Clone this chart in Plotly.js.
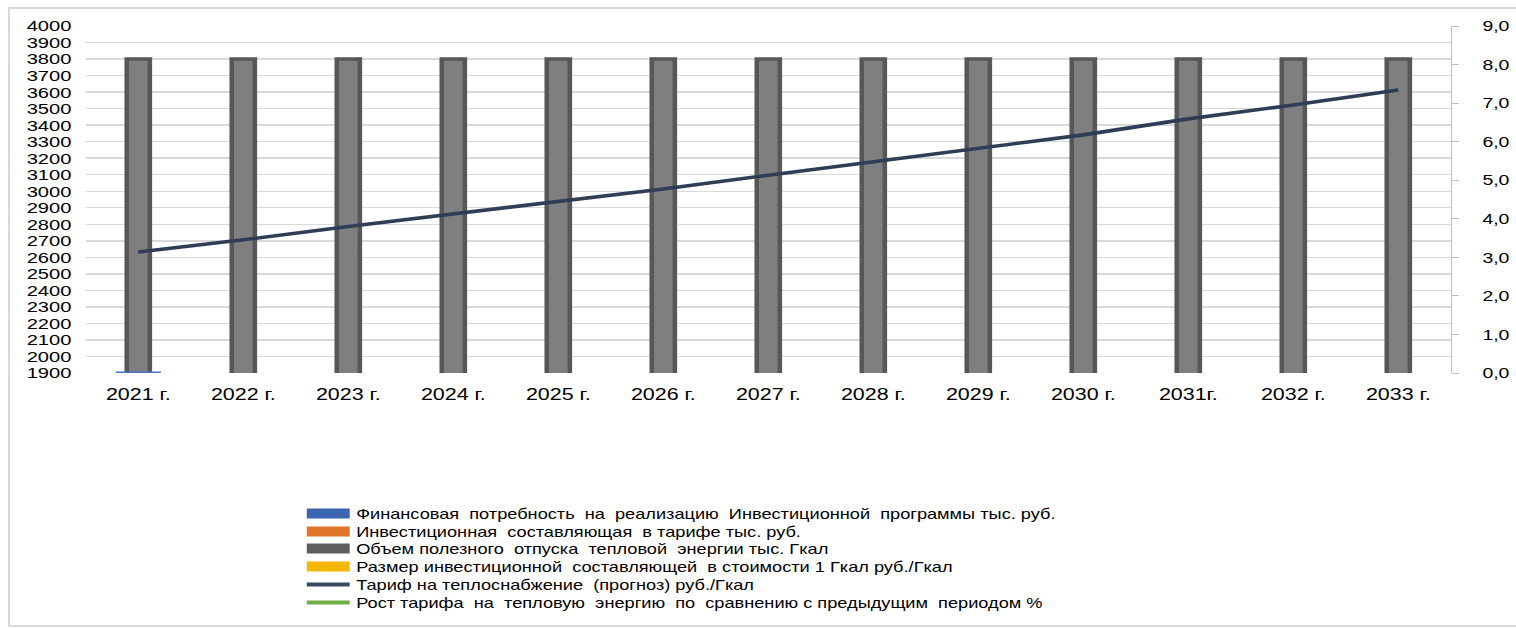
<!DOCTYPE html>
<html><head><meta charset="utf-8">
<script src="https://cdn.plot.ly/plotly-3.0.1.min.js"></script>
<style>
html,body{margin:0;padding:0;background:#fff;overflow:hidden;width:1516px;height:628px;}
#frame{position:absolute;left:8px;top:7px;width:1510px;height:620px;border:2px solid #d9d9d9;box-sizing:border-box;}
#chart{position:absolute;left:0;top:0;width:1180px;height:628px;transform:scaleX(1.3);transform-origin:0 0;}
</style></head><body>
<div id="frame"></div>
<div id="chart"></div>
<script>
// categories
const years = ["2021 г.","2022 г.","2023 г.","2024 г.","2025 г.","2026 г.","2027 г.","2028 г.","2029 г.","2030 г.","2031г.","2032 г.","2033 г."];
// series
const finNeed       = [0.04, null, null, null, null, null, null, null, null, null, null, null, null];
const investPart    = [null, null, null, null, null, null, null, null, null, null, null, null, null];
const heatVolume    = [3800, 3800, 3800, 3800, 3800, 3800, 3800, 3800, 3800, 3800, 3800, 3800, 3800];
const investPerGcal = [null, null, null, null, null, null, null, null, null, null, null, null, null];
const tariff        = [2632, 2706, 2787, 2863, 2940, 3014, 3097, 3178, 3258, 3341, 3438, 3522, 3613];
const tariffGrowth  = [null, null, null, null, null, null, null, null, null, null, null, null, null];
// legend names
const names = [
  "Финансовая\u00a0 потребность\u00a0 на\u00a0 реализацию\u00a0 Инвестиционной\u00a0 программы тыс. руб.",
  "Инвестиционная\u00a0 составляющая\u00a0 в тарифе тыс. руб.",
  "Объем полезного\u00a0 отпуска\u00a0 тепловой\u00a0 энергии тыс. Гкал",
  "Размер инвестиционной\u00a0 составляющей\u00a0 в стоимости 1 Гкал руб./Гкал",
  "Тариф на теплоснабжение\u00a0 (прогноз) руб./Гкал",
  "Рост тарифа\u00a0 на\u00a0 тепловую\u00a0 энергию\u00a0 по\u00a0 сравнению с предыдущим\u00a0 периодом %"
];
const legendColors = ['#3b65b0', '#e07428', '#5e5e5e', '#f5b800', '#3a4a63', '#70ad47'];
const legendWidths = [10.5, 10.5, 10.5, 10.5, 4, 4];
const FONT = "Liberation Sans, Arial, sans-serif";

const W = 1180, H = 628, ML = 66, MR = 64, MT = 26, MB = 255;
const PW = W - ML - MR, PH = H - MT - MB;

const traces = [
  {type:'bar', x:years, y:heatVolume, yaxis:'y', width:0.22, showlegend:false,
   marker:{color:'#7f7f7f', line:{color:'#575757', width:3.5}}},
  {type:'bar', x:years, y:investPart, yaxis:'y', width:0.22, showlegend:false,
   marker:{color:'#ed7d31'}},
  {type:'bar', x:years, y:investPerGcal, yaxis:'y', width:0.22, showlegend:false,
   marker:{color:'#ffc000'}},
  {type:'bar', x:years, y:finNeed, yaxis:'y2', width:0.43, showlegend:false,
   marker:{color:'#4472c4'}},
  {type:'scatter', mode:'lines', x:years, y:tariff, yaxis:'y', showlegend:false,
   line:{color:'#2f3e56', width:3.6}},
  {type:'scatter', mode:'lines', x:years, y:tariffGrowth, yaxis:'y2', showlegend:false,
   line:{color:'#70ad47', width:3.6}}
];

const layout = {
  width:W, height:H,
  margin:{l:ML, r:MR, t:MT, b:MB, autoexpand:false},
  paper_bgcolor:'rgba(0,0,0,0)', plot_bgcolor:'#fff',
  separators:', ',
  barmode:'overlay',
  font:{family:FONT, color:'#000'},
  showlegend:true,
  xaxis:{type:'category', showgrid:false, zeroline:false, showline:false, ticks:'', tickangle:0,
         tickfont:{family:FONT, size:16.5, color:'#000'}, ticklabelstandoff:10},
  yaxis:{range:[1900,4000], dtick:100, tick0:1900, showgrid:true, gridcolor:'#d9d9d9', gridwidth:1.4,
         zeroline:false, showline:false, ticks:'', tickformat:'d',
         tickfont:{family:FONT, size:15.5, color:'#000'}, ticklabelstandoff:10},
  yaxis2:{overlaying:'y', side:'right', range:[0,9], dtick:1, tick0:0, showgrid:false, zeroline:false,
          showline:true, linecolor:'#bfbfbf', linewidth:1.3, ticks:'outside', ticklen:5, tickcolor:'#bfbfbf',
          tickformat:'.1f', tickfont:{family:FONT, size:15, color:'#000'}, ticklabelstandoff:15}
};

// legend rows (pixel centres in the unstretched frame)
const rowY = [514, 532, 549, 567, 585, 603];
const legendLeft = 231;
names.forEach((nm, i) => {
  const key = i === 0 ? 'legend' : 'legend' + (i + 1);
  traces.push({type:'scatter', mode:'lines', x:[null], y:[null], name:nm, legend:key,
               line:{color:legendColors[i], width:legendWidths[i]}});
  layout[key] = {
    x:(legendLeft - ML) / PW, y:(H - MB - rowY[i]) / PH, xanchor:'left', yanchor:'middle',
    font:{family:FONT, size:14, color:'#000'}, bgcolor:'rgba(0,0,0,0)', itemwidth:33,
    borderwidth:0
  };
});

Plotly.newPlot('chart', traces, layout, {staticPlot:true, displayModeBar:false});
</script>
</body></html>
